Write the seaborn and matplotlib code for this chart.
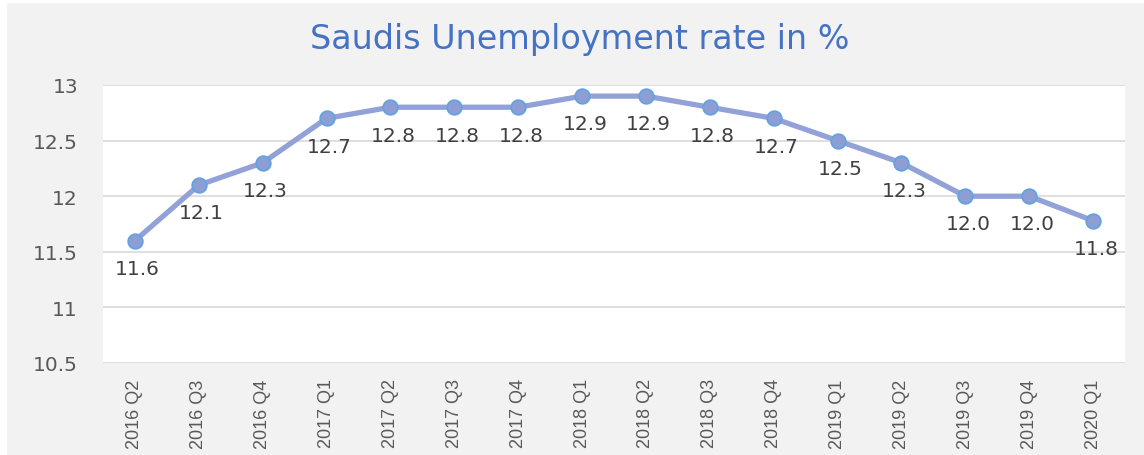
import matplotlib
matplotlib.use('Agg')
import matplotlib.pyplot as plt
import seaborn as sns
import pandas as pd
from matplotlib.patches import Rectangle

# data
quarters = ['2016 Q2', '2016 Q3', '2016 Q4', '2017 Q1', '2017 Q2', '2017 Q3', '2017 Q4', '2018 Q1',
            '2018 Q2', '2018 Q3', '2018 Q4', '2019 Q1', '2019 Q2', '2019 Q3', '2019 Q4', '2020 Q1']
rates = [11.6, 12.1, 12.3, 12.7, 12.8, 12.8, 12.8, 12.9, 12.9, 12.8, 12.7, 12.5, 12.3, 12.0, 12.0, 11.78]
y_ticks = [10.5, 11, 11.5, 12, 12.5, 13]
y_tick_labels = ['10.5', '11', '11.5', '12', '12.5', '13']

df = pd.DataFrame({'quarter': quarters, 'rate': rates})

sns.set_style('white')
plt.rcParams['font.family'] = ['DejaVu Sans']

fig = plt.figure(figsize=(11.44, 4.56), dpi=100)
fig.patch.set_facecolor('white')
# grey chart area, small white border at top/left like the screenshot
fig.patches.append(Rectangle((7 / 1144, 0), 1 - 7 / 1144, 1 - 4 / 456, transform=fig.transFigure,
                             facecolor='#f2f2f2', edgecolor='none', zorder=-10))

ax = fig.add_axes([103 / 1144, 1 - 364 / 456, (1125 - 103) / 1144, (364 - 86) / 456])
ax.set_facecolor('white')

sns.lineplot(data=df, x='quarter', y='rate', ax=ax, sort=False, color='#92a2d8', linewidth=3.8,
             marker='o', markersize=10.5, markerfacecolor='#8e9dd3', markeredgecolor='#62a3e0',
             markeredgewidth=1.3)

for i, v in enumerate(rates):
    ax.annotate(f'{v:.1f}', (i, v), xytext=(2, -20), textcoords='offset points',
                ha='center', va='center', fontsize=14.5, color='#404040')

ax.set_xlim(-0.5, len(quarters) - 0.5)
ax.set_ylim(10.5, 13)
ax.set_yticks(y_ticks)
ax.set_yticklabels(y_tick_labels)
ax.set_xticks(range(len(quarters)))
ax.set_xticklabels(quarters, rotation=90, family=['Liberation Sans', 'DejaVu Sans'], fontsize=13)
ax.tick_params(axis='y', colors='#595959', labelsize=14.5, length=0, pad=18)
ax.tick_params(axis='x', colors='#595959', length=0, pad=11)
ax.grid(axis='y', color='#d9d9d9', linewidth=1.2)
ax.set_axisbelow(True)
for s in ax.spines.values():
    s.set_visible(False)
ax.set_xlabel('')
ax.set_ylabel('')

fig.text(580 / 1144, 1 - 40 / 456, 'Saudis Unemployment rate in %', ha='center', va='center',
         fontsize=24, color='#4472c4')

fig.savefig('out.png', dpi=100)
